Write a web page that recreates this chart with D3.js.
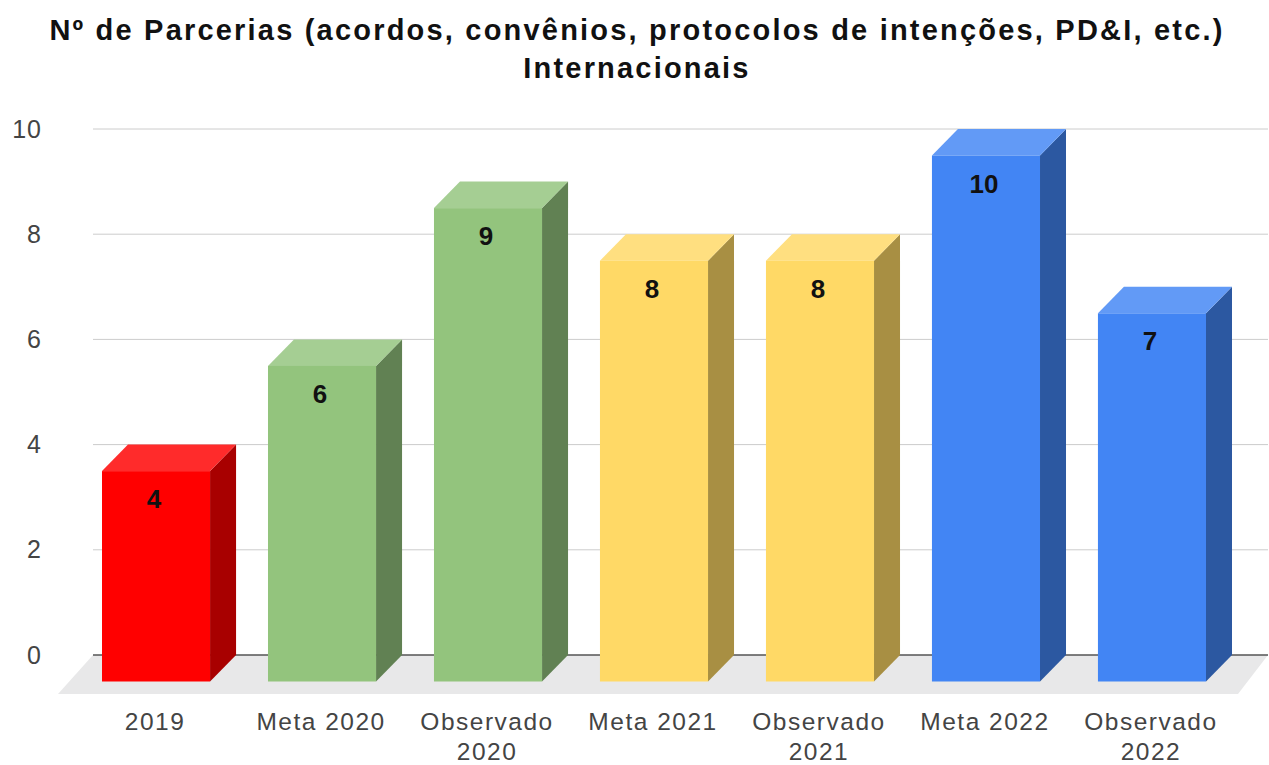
<!DOCTYPE html>
<html>
<head>
<meta charset="utf-8">
<script src="https://cdn.jsdelivr.net/npm/d3@7"></script>
<style>
html, body { margin: 0; padding: 0; background: #fff; }
svg { display: block; }
text { font-family: "Liberation Sans", Arial, sans-serif; }
</style>
</head>
<body>
<svg width="1269" height="765"></svg>
<script>
const categories = ["2019", "Meta 2020", "Observado 2020", "Meta 2021", "Observado 2021", "Meta 2022", "Observado 2022"];
const values = [4, 6, 9, 8, 8, 10, 7];
const barColors = ["#ff0000", "#93c47d", "#93c47d", "#ffd966", "#ffd966", "#4285f4", "#4285f4"];
const yTicks = [0, 2, 4, 6, 8, 10];
const titleLines = ["Nº de Parcerias (acordos, convênios, protocolos de intenções, PD&I, etc.)", "Internacionais"];

const svg = d3.select("svg");

const depthX = 26, depthY = 26.5;
const y = d3.scaleLinear().domain([0, 10]).range([655, 129]);
const x = d3.scaleBand().domain(categories).range([102, 1206]).paddingInner(0.349).paddingOuter(0);

// cores das faces
function topColor(c) { return d3.interpolateRgb(c, "#fff")(0.17); }
function sideColor(c) {
    const r = d3.rgb(c);
    return d3.rgb(r.r * 0.66, r.g * 0.66, r.b * 0.66).formatHex();
}

// titulo
svg.selectAll(".title").data(titleLines).enter().append("text")
    .attr("class", "title")
    .attr("x", 637)
    .attr("y", (d, i) => 40 + i * 38)
    .attr("text-anchor", "middle")
    .attr("font-size", 29)
    .attr("letter-spacing", 2.2)
    .attr("font-weight", "bold")
    .attr("fill", "#111")
    .text(d => d);

// chao
const floorY = y(0), frontY = floorY + depthY;
svg.append("path")
    .attr("d", `M93,${floorY}H1268L1238,${floorY + 39}H58Z`)
    .attr("fill", "#e8e8e9");

// grade
svg.selectAll(".grid").data(yTicks).enter().append("line")
    .attr("class", "grid")
    .attr("x1", 93).attr("x2", 1268)
    .attr("y1", d => y(d)).attr("y2", d => y(d))
    .attr("stroke", d => d === 0 ? "#555" : "#ccc")
    .attr("stroke-width", d => d === 0 ? 1.5 : 1);

// eixo y
svg.selectAll(".ytick").data(yTicks).enter().append("text")
    .attr("class", "ytick")
    .attr("x", 42)
    .attr("y", d => y(d) + 8.5)
    .attr("text-anchor", "end")
    .attr("font-size", 25)
    .attr("letter-spacing", 1)
    .attr("fill", "#444")
    .text(d => d);

// barras 3d
const bars = svg.selectAll(".bar").data(categories).enter().append("g").attr("class", "bar");
const barTop = (d, i) => y(values[i]) + depthY;
bars.append("path")
    .attr("d", (d, i) => {
        const r = x(d) + x.bandwidth(), t = barTop(d, i);
        return `M${r},${t}L${r + depthX},${t - depthY}V${floorY}L${r},${frontY}Z`;
    })
    .attr("fill", (d, i) => sideColor(barColors[i]));
bars.append("path")
    .attr("d", (d, i) => {
        const l = x(d), r = l + x.bandwidth(), t = barTop(d, i);
        return `M${l},${t}L${l + depthX},${t - depthY}H${r + depthX}L${r},${t}Z`;
    })
    .attr("fill", (d, i) => topColor(barColors[i]));
bars.append("rect")
    .attr("x", d => x(d))
    .attr("y", (d, i) => barTop(d, i))
    .attr("width", x.bandwidth())
    .attr("height", (d, i) => frontY - barTop(d, i))
    .attr("fill", (d, i) => barColors[i]);
bars.append("text")
    .attr("x", d => x(d) + x.bandwidth() / 2 - 2)
    .attr("y", (d, i) => barTop(d, i) + 37)
    .attr("text-anchor", "middle")
    .attr("font-size", 26)
    .attr("font-weight", "bold")
    .attr("fill", "#111")
    .text((d, i) => values[i]);

// rotulos x
const labels = svg.selectAll(".xlabel").data(categories).enter().append("text")
    .attr("class", "xlabel")
    .attr("text-anchor", "middle")
    .attr("font-size", 24.5)
    .attr("letter-spacing", 1.5)
    .attr("fill", "#444");
labels.each(function(d) {
    const parts = d.startsWith("Observado") ? d.split(" ") : [d];
    d3.select(this).selectAll("tspan").data(parts).enter().append("tspan")
        .attr("x", x(d) + x.bandwidth() / 2 - 1)
        .attr("y", (p, i) => 730 + i * 30)
        .text(p => p);
});
</script>
</body>
</html>
